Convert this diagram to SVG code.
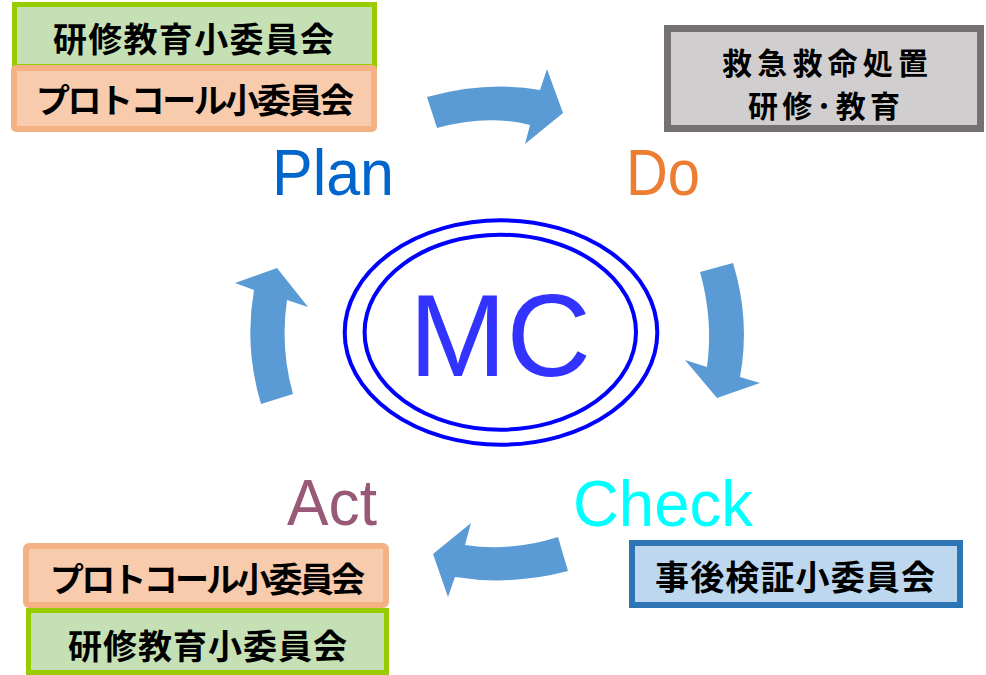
<svg xmlns="http://www.w3.org/2000/svg" width="986" height="675" viewBox="0 0 986 675">
<style>
.jp{font-family:"Noto Sans CJK JP","Noto Sans CJK SC",sans-serif;font-weight:bold;font-size:34px;fill:#000;text-anchor:middle;dominant-baseline:central}
.sm{font-size:30px}
.lbl{font-family:"Liberation Sans",Arial,sans-serif;font-size:65px}
.green{fill:#c5e0b4;stroke:#99cc00;stroke-width:5}
.orange{fill:#f8cbad;stroke:#f4b183;stroke-width:6}
.arrow{fill:#5b9bd5}
.ring{fill:none;stroke:#0000ff;stroke-width:4}
</style>
<rect width="986" height="675" fill="#fff"/>
<g id="connectors">
<path class="arrow" d="M427,97 Q487,80.5 540,90 L547,69 L563,113 L525,144 L530,125 Q487,114 437,128 Z"/>
<path class="arrow" d="M700,272 Q713.5,320 707,367 L685,360 L717,398 L760,383 L740,377 Q750.5,320 733,263 Z"/>
<path class="arrow" d="M558,537 Q511,552 465,545 L471,523 L433,554 L448,597 L455,577 Q511,586 568,571 Z"/>
<path class="arrow" d="M261,404 Q244,347 254,290 L235,283 L277,268 L308,307 L287,300 Q280,347 293,394 Z"/>
</g>
<g id="mc">
<ellipse class="ring" cx="501" cy="332.5" rx="156.3" ry="112.2"/>
<ellipse class="ring" cx="500.3" cy="332.2" rx="135.7" ry="97.5"/>
<text x="500" y="376" font-family="Liberation Sans,Arial,sans-serif" font-size="117" fill="#3333ff" text-anchor="middle">MC</text>
</g>
<g id="plan">
<text class="lbl" x="272" y="195" fill="#0066cc" textLength="122" lengthAdjust="spacingAndGlyphs">Plan</text>
</g>
<g id="do">
<text class="lbl" x="626" y="195" fill="#ed7d31" textLength="74" lengthAdjust="spacingAndGlyphs">Do</text>
</g>
<g id="check">
<text class="lbl" x="573" y="526" fill="#00ffff" textLength="180" lengthAdjust="spacingAndGlyphs">Check</text>
</g>
<g id="act">
<text class="lbl" x="287" y="525" fill="#985878" textLength="90" lengthAdjust="spacingAndGlyphs">Act</text>
</g>
<g id="plan-kenshu">
<rect class="green" x="14.5" y="4.5" width="360" height="62"/>
<text class="jp" x="193.5" y="37" textLength="281">研修教育小委員会</text>
</g>
<g id="plan-protocol">
<rect class="orange" x="14" y="68" width="360" height="61" rx="2"/>
<text class="jp" x="195" y="98" textLength="318">プロトコール小委員会</text>
</g>
<g id="do-box">
<rect x="667.5" y="28.5" width="313" height="100" fill="#d0cece" stroke="#767171" stroke-width="7"/>
<text class="jp sm" x="825" y="60.5" textLength="206">救急救命処置</text>
<text class="jp sm" x="824" y="104" textLength="152">研修･教育</text>
</g>
<g id="check-box">
<rect x="632" y="543" width="328" height="62" fill="#bdd7ee" stroke="#2e75b6" stroke-width="6"/>
<text class="jp" x="795" y="575" textLength="280">事後検証小委員会</text>
</g>
<g id="act-protocol">
<rect class="orange" x="26" y="546" width="360" height="59" rx="3"/>
<text class="jp" x="207.5" y="577" textLength="315">プロトコール小委員会</text>
</g>
<g id="act-kenshu">
<rect class="green" x="28.5" y="610.5" width="358" height="62"/>
<text class="jp" x="207.5" y="644" textLength="279">研修教育小委員会</text>
</g>
</svg>
